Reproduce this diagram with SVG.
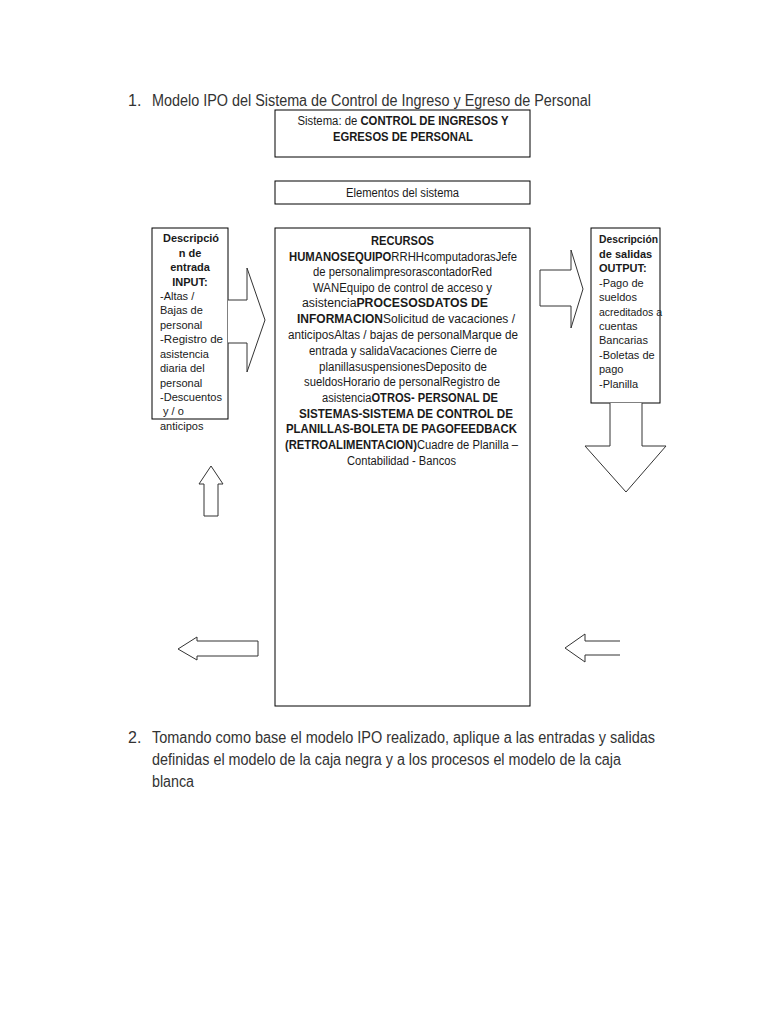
<svg xmlns="http://www.w3.org/2000/svg" width="768" height="1024" viewBox="0 0 768 1024">
<style>
text{font-family:"Liberation Sans Narrow","Liberation Sans",Arial,sans-serif;fill:#1a1a1a}
.h{font-size:16px;fill:#333}
.s{font-size:12px}
.xs{font-size:11px}
.b{font-weight:bold}
.box{fill:#fff;stroke:#000;stroke-width:1}
.arr{fill:#fff;stroke:#333;stroke-width:1}
</style>
<rect width="768" height="1024" fill="#fff"/>
<text class="h" x="128" y="106">1.</text>
<text class="h" x="152" y="106" textLength="439" lengthAdjust="spacingAndGlyphs">Modelo IPO del Sistema de Control de Ingreso y Egreso de Personal</text>

<g id="n-sistema">
<rect class="box" x="275" y="110" width="255" height="47"/>
<text class="s" x="403" y="125" text-anchor="middle" textLength="211" lengthAdjust="spacingAndGlyphs">Sistema: de <tspan class="b">CONTROL DE INGRESOS Y</tspan></text>
<text class="s b" x="403" y="141" text-anchor="middle" textLength="140" lengthAdjust="spacingAndGlyphs">EGRESOS DE PERSONAL</text>
</g>

<g id="n-elementos">
<rect class="box" x="275" y="181" width="255" height="23"/>
<text class="s" x="402.5" y="197" text-anchor="middle" textLength="113" lengthAdjust="spacingAndGlyphs">Elementos del sistema</text>
</g>

<g id="n-proceso">
<rect class="box" x="275" y="228" width="255" height="478"/>
<g class="s" text-anchor="middle">
<text x="402.5" y="245" class="b" textLength="63" lengthAdjust="spacingAndGlyphs">RECURSOS</text>
<text x="403" y="261" textLength="228" lengthAdjust="spacingAndGlyphs"><tspan class="b">HUMANOSEQUIPO</tspan>RRHHcomputadorasJefe</text>
<text x="402.5" y="276" textLength="179" lengthAdjust="spacingAndGlyphs">de personalimpresorascontadorRed</text>
<text x="402.5" y="292" textLength="179" lengthAdjust="spacingAndGlyphs">WANEquipo de control de acceso y</text>
<text x="395" y="307" textLength="186" lengthAdjust="spacingAndGlyphs">asistencia<tspan class="b">PROCESOSDATOS DE</tspan></text>
<text x="406" y="323" textLength="218" lengthAdjust="spacingAndGlyphs"><tspan class="b">INFORMACION</tspan>Solicitud de vacaciones /</text>
<text x="403" y="339" textLength="230" lengthAdjust="spacingAndGlyphs">anticiposAltas / bajas de personalMarque de</text>
<text x="403" y="355" textLength="188" lengthAdjust="spacingAndGlyphs">entrada y salidaVacaciones Cierre de</text>
<text x="403" y="371" textLength="168" lengthAdjust="spacingAndGlyphs">planillasuspensionesDeposito de</text>
<text x="402" y="386" textLength="196" lengthAdjust="spacingAndGlyphs">sueldosHorario de personalRegistro de</text>
<text x="410" y="402" textLength="176" lengthAdjust="spacingAndGlyphs">asistencia<tspan class="b">OTROS- PERSONAL DE</tspan></text>
<text x="406" y="418" class="b" textLength="214" lengthAdjust="spacingAndGlyphs">SISTEMAS-SISTEMA DE CONTROL DE</text>
<text x="401.5" y="433" class="b" textLength="231" lengthAdjust="spacingAndGlyphs">PLANILLAS-BOLETA DE PAGOFEEDBACK</text>
<text x="401.5" y="449" textLength="233" lengthAdjust="spacingAndGlyphs"><tspan class="b">(RETROALIMENTACION)</tspan>Cuadre de Planilla –</text>
<text x="401.5" y="465" textLength="109" lengthAdjust="spacingAndGlyphs">Contabilidad - Bancos</text>
</g>
</g>

<g id="n-entrada">
<rect class="box" x="152" y="228" width="76" height="191"/>
<g class="xs">
<text x="191" y="242" text-anchor="middle" class="b" textLength="56" lengthAdjust="spacingAndGlyphs">Descripció</text>
<text x="190" y="257" text-anchor="middle" class="b">n de</text>
<text x="190" y="271" text-anchor="middle" class="b">entrada</text>
<text x="190" y="286" text-anchor="middle" class="b">INPUT:</text>
<text x="160" y="300">-Altas /</text>
<text x="160" y="314">Bajas de</text>
<text x="160" y="329">personal</text>
<text x="160" y="343" textLength="63" lengthAdjust="spacingAndGlyphs">-Registro de</text>
<text x="160" y="358">asistencia</text>
<text x="160" y="372">diaria del</text>
<text x="160" y="387">personal</text>
<text x="160" y="401" textLength="62" lengthAdjust="spacingAndGlyphs">-Descuentos</text>
<text x="163" y="415">y / o</text>
<text x="160" y="430">anticipos</text>
</g>
</g>

<g id="n-salida">
<rect class="box" x="591" y="228" width="69" height="175"/>
<g class="xs">
<text x="599" y="243" class="b" textLength="59" lengthAdjust="spacingAndGlyphs">Descripción</text>
<text x="599" y="258" class="b">de salidas</text>
<text x="599" y="272" class="b">OUTPUT:</text>
<text x="599" y="287">-Pago de</text>
<text x="599" y="301">sueldos</text>
<text x="599" y="316" textLength="63" lengthAdjust="spacingAndGlyphs">acreditados a</text>
<text x="599" y="330">cuentas</text>
<text x="599" y="344">Bancarias</text>
<text x="599" y="359">-Boletas de</text>
<text x="599" y="373">pago</text>
<text x="599" y="388">-Planilla</text>
</g>
</g>

<g id="connectors">
<path class="arr" d="M228,300 H247 V268 L265,320 L247,372 V343 H228"/>
<path class="arr" d="M540,270 H571 V250 L583,289 L571,328 V306 H540 Z"/>
<path class="arr" d="M610,403 V446 H585 L626,492 L666,446 H642 V403"/>
<path class="arr" d="M204,516 V484 H199 L211,466 L223,484 H218 V516 Z"/>
<path class="arr" d="M258,641 H197 V637 L178,649 L197,660 V656 H258 Z"/>
<path class="arr" d="M620,641 H585 V634 L565,648 L585,662 V655 H620"/>
</g>

<text class="h" x="128" y="743">2.</text>
<text class="h" x="152" y="743" textLength="503" lengthAdjust="spacingAndGlyphs">Tomando como base el modelo IPO realizado, aplique a las entradas y salidas</text>
<text class="h" x="152" y="765" textLength="469" lengthAdjust="spacingAndGlyphs">definidas el modelo de la caja negra y a los procesos el modelo de la caja</text>
<text class="h" x="152" y="787" textLength="42" lengthAdjust="spacingAndGlyphs">blanca</text>
</svg>
